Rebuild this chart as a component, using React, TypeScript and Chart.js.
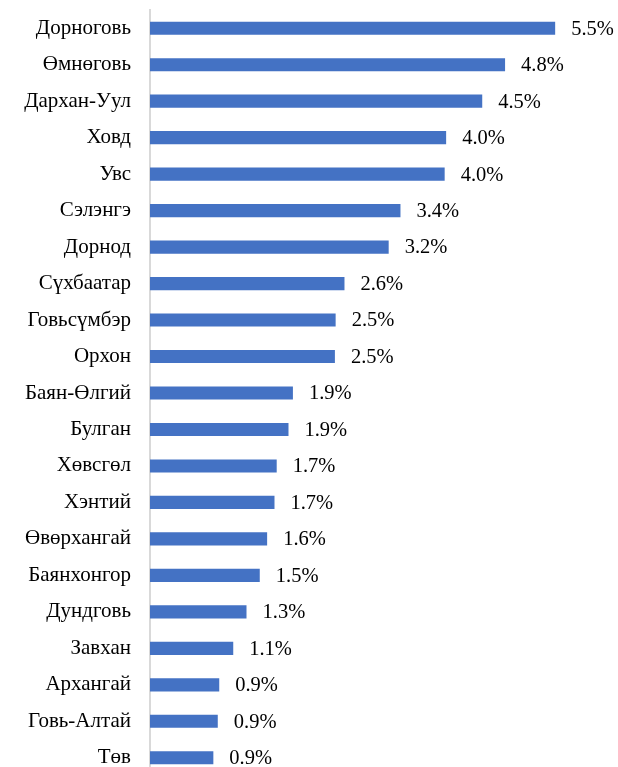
import React, { useEffect, useRef } from "react";
import { Chart, registerables } from "chart.js";

Chart.register(...registerables);

const categories = [
  "Дорноговь",
  "Өмнөговь",
  "Дархан-Уул",
  "Ховд",
  "Увс",
  "Сэлэнгэ",
  "Дорнод",
  "Сүхбаатар",
  "Говьсүмбэр",
  "Орхон",
  "Баян-Өлгий",
  "Булган",
  "Хөвсгөл",
  "Хэнтий",
  "Өвөрхангай",
  "Баянхонгор",
  "Дундговь",
  "Завхан",
  "Архангай",
  "Говь-Алтай",
  "Төв",
];

const values = [
  5.5, 4.82, 4.51, 4.02, 4.0, 3.4, 3.24, 2.64, 2.52, 2.51, 1.94, 1.88, 1.72,
  1.69, 1.59, 1.49, 1.31, 1.13, 0.94, 0.92, 0.86,
];

const valueLabels = [
  "5.5%", "4.8%", "4.5%", "4.0%", "4.0%", "3.4%", "3.2%", "2.6%", "2.5%",
  "2.5%", "1.9%", "1.9%", "1.7%", "1.7%", "1.6%", "1.5%", "1.3%", "1.1%",
  "0.9%", "0.9%", "0.9%",
];

const FONT_FAMILY = "'Liberation Serif', 'Times New Roman', serif";

const valueLabelPlugin = {
  id: "valueLabels",
  afterDatasetsDraw(chart: any) {
    const ctx = chart.ctx;
    const meta = chart.getDatasetMeta(0);
    ctx.save();
    ctx.fillStyle = "#000000";
    ctx.font = `20.5px ${FONT_FAMILY}`;
    ctx.textAlign = "left";
    ctx.textBaseline = "middle";
    meta.data.forEach((bar: any, i: number) => {
      ctx.fillText(valueLabels[i], bar.x + 16, bar.y + 1);
    });
    ctx.restore();
  },
};

export default function App() {
  const ref = useRef<HTMLCanvasElement>(null);

  useEffect(() => {
    if (!ref.current) return;
    const chart = new Chart(ref.current, {
      type: "bar",
      data: {
        labels: categories,
        datasets: [
          {
            data: values,
            backgroundColor: "#4472C4",
            borderWidth: 0,
            barPercentage: 0.36,
            categoryPercentage: 1,
          },
        ],
      },
      options: {
        indexAxis: "y",
        responsive: false,
        animation: false,
        layout: { padding: { top: 10, right: 26, left: 0, bottom: 0 } },
        plugins: {
          legend: { display: false },
          tooltip: { enabled: false },
        },
        scales: {
          x: { display: false, min: 0, max: 6 },
          y: {
            grid: { display: false, drawTicks: false },
            border: { display: true, color: "#d9d9d9", width: 2 },
            ticks: {
              color: "#000000",
              font: { family: FONT_FAMILY, size: 21 },
              padding: 19,
            },
            afterFit: (scale: any) => {
              scale.width = 150;
              scale.paddingTop = 0;
              scale.paddingBottom = 0;
            },
          },
        },
      },
      plugins: [valueLabelPlugin],
    });
    return () => chart.destroy();
  }, []);

  return (
    <div
      style={{
        position: "absolute",
        left: 0,
        top: 0,
        width: 618,
        height: 767,
        overflow: "hidden",
        background: "#ffffff",
      }}
    >
      <canvas ref={ref} width={618} height={776} style={{ display: "block" }} />
    </div>
  );
}
